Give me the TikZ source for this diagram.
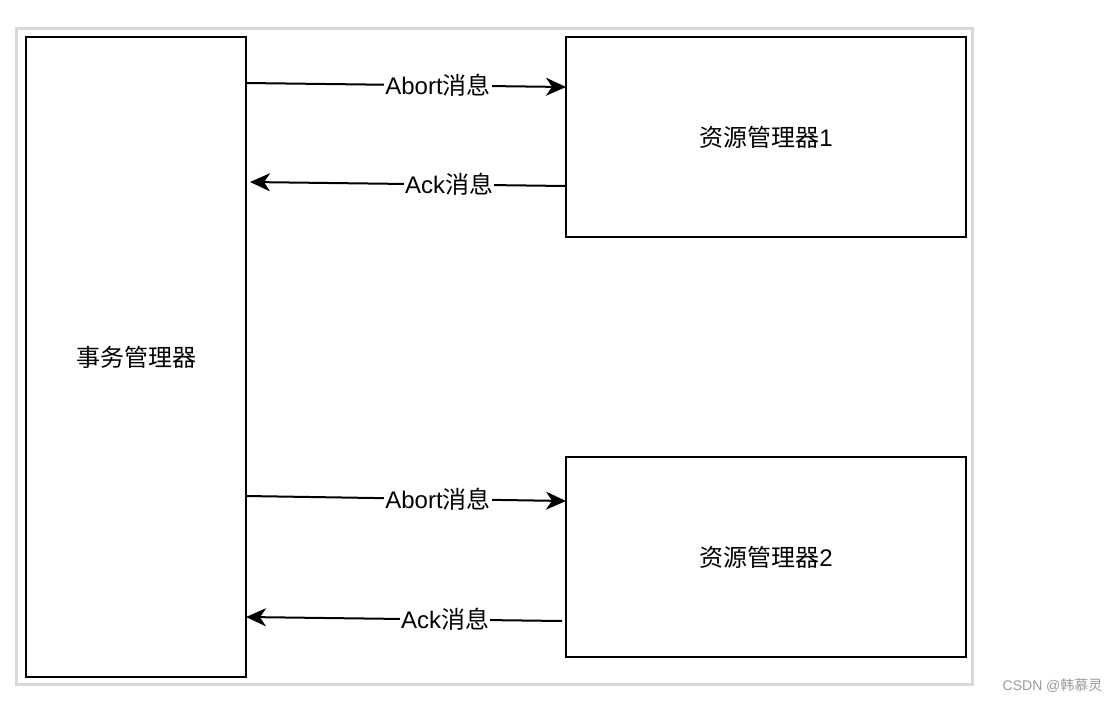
\documentclass[tikz,border=0pt]{standalone}
\usepackage{fontspec}
\setmainfont{Liberation Sans}
\newfontfamily\cjk{Noto Sans CJK SC}
\usetikzlibrary{positioning,arrows.meta}
\definecolor{framegray}{HTML}{D9D9D9}
\definecolor{markgray}{HTML}{9A9A9A}
\tikzset{%
box/.style={draw,rectangle,line width=2pt,inner sep=0,outer sep=0,font=\fontsize{24}{28}\selectfont},
msg/.style={draw,line width=2pt,-{Stealth[length=20pt,width=18pt,inset=6pt]}},
msglabel/.style={fill=white,inner sep=1pt,font=\fontsize{24}{28}\selectfont},
}
\newcommand{\zh}[1]{{\cjk #1}}

\begin{document}
\begin{tikzpicture}[x=1pt,y=-1pt]

    \useasboundingbox (0,0) rectangle (1120,702);
    \draw[framegray,line width=3pt] (16.5,28.5) rectangle (972.5,684.5);

    \node[box,minimum width=220pt,minimum height=640pt] (tm) at (136,357) {\zh{事务管理器}};
    \node[box,minimum width=400pt,minimum height=200pt] (rm1) [below right=0pt and 320pt of tm.north east] {\zh{资源管理器}1};
    \node[box,minimum width=400pt,minimum height=200pt] (rm2) [below=220pt of rm1] {\zh{资源管理器}2};

    \path[msg] ([yshift=-46pt]tm.north east) -- node[msglabel,pos=0.6] {Abort\zh{消息}} ([yshift=-50pt]rm1.north west);
    \path[msg] ([yshift=-149pt]rm1.north west) -- node[msglabel,pos=0.37] {Ack\zh{消息}} ([xshift=4pt,yshift=-145pt]tm.north east);
    \path[msg] ([yshift=-459pt]tm.north east) -- node[msglabel,pos=0.6] {Abort\zh{消息}} ([yshift=-44pt]rm2.north west);
    \path[msg] ([xshift=-4pt,yshift=-164pt]rm2.north west) -- node[msglabel,pos=0.37] {Ack\zh{消息}} ([yshift=-580pt]tm.north east);

    \node[markgray,font=\fontsize{14}{16}\selectfont,anchor=east] (mark) at (1106,686) {CSDN @\zh{韩慕灵}};

\end{tikzpicture}
\end{document}
